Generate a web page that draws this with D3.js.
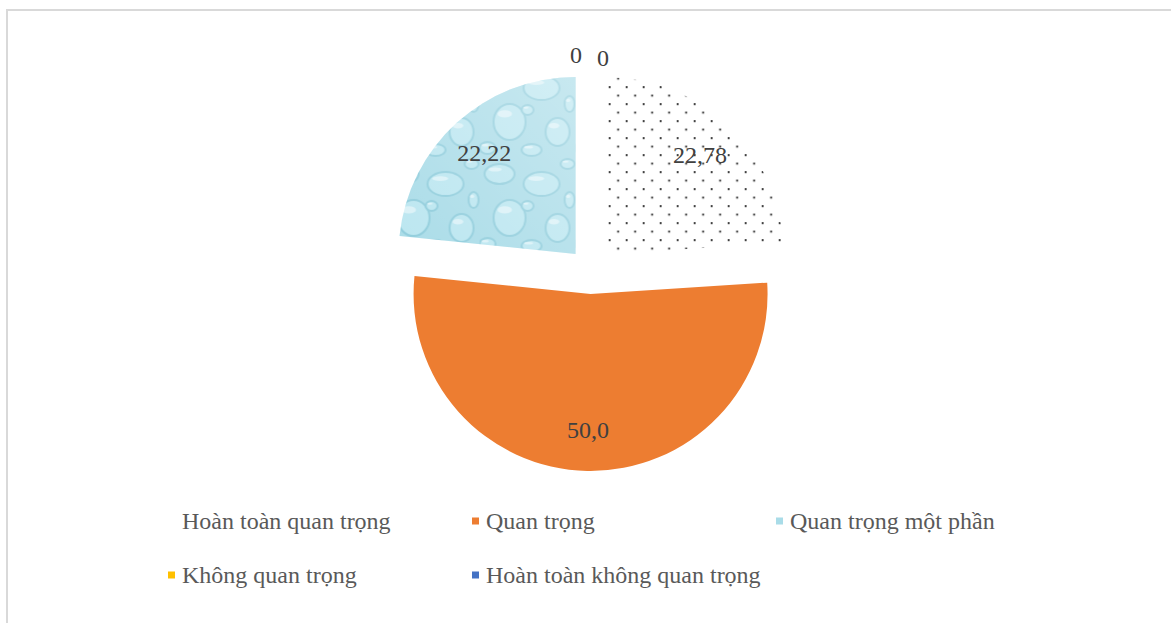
<!DOCTYPE html>
<html>
<head>
<meta charset="utf-8">
<script src="https://cdn.jsdelivr.net/npm/d3@7"></script>
<style>
  html, body { margin: 0; padding: 0; background: #ffffff; }
  svg { display: block; }
</style>
</head>
<body>
<svg id="chart" width="1171" height="623"></svg>
<script>
// ---- Data ----
const categories = ["Hoàn toàn quan trọng", "Quan trọng", "Quan trọng một phần", "Không quan trọng", "Hoàn toàn không quan trọng"];
const values = [22.78, 50.0, 22.22, 0, 0];
const valueLabels = ["22,78", "50,0", "22,22", "0", "0"];

// ---- Layout / style ----
const W = 1171, H = 623;
const cx = 591, cy = 271, R = 177, explode = 23;
const font = "'Liberation Serif', 'Times New Roman', serif";
const svg = d3.select("#chart");
const defs = svg.append("defs");

// dotted (5%) pattern: staggered dots
const dots = defs.append("pattern").attr("id", "dots").attr("patternUnits", "userSpaceOnUse")
  .attr("width", 17).attr("height", 17);
dots.append("rect").attr("width", 17).attr("height", 17).attr("fill", "#ffffff");
dots.append("rect").attr("x", 2).attr("y", 2).attr("width", 1.8).attr("height", 1.8).attr("fill", "#111");
dots.append("rect").attr("x", 10.5).attr("y", 10.5).attr("width", 1.8).attr("height", 1.8).attr("fill", "#111");

// water-drop texture pattern
const drops = defs.append("pattern").attr("id", "drops").attr("patternUnits", "userSpaceOnUse")
  .attr("width", 96).attr("height", 96);
drops.append("rect").attr("width", 96).attr("height", 96).attr("fill", "#aadce8");
const dropShapes = [[20,16,15,10],[62,26,18,12],[30,60,16,18],[78,70,12,14],[8,86,8,6],[52,88,10,6],[88,6,7,5],[90,42,5,8],[48,48,6,5]];
dropShapes.forEach(([x, y, rx, ry]) => {
  drops.append("ellipse").attr("cx", x).attr("cy", y).attr("rx", rx).attr("ry", ry)
    .attr("fill", "rgba(200,238,246,0.55)").attr("stroke", "#90cddc").attr("stroke-width", 2);
  drops.append("ellipse").attr("cx", x - rx * 0.3).attr("cy", y - ry * 0.45).attr("rx", rx * 0.45).attr("ry", ry * 0.2)
    .attr("fill", "rgba(255,255,255,0.45)");
});
const lg = defs.append("linearGradient").attr("id", "sheen").attr("x1", "0").attr("y1", "1").attr("x2", "1").attr("y2", "0");
lg.append("stop").attr("offset", "0").attr("stop-color", "#ffffff").attr("stop-opacity", 0);
lg.append("stop").attr("offset", "1").attr("stop-color", "#ffffff").attr("stop-opacity", 0.35);

const fills = ["url(#dots)", "#ED7D31", "url(#drops)", "#FFC000", "#4472C4"];
const legendFills = ["#ffffff", "#ED7D31", "#a9dce8", "#FFC000", "#4472C4"];

// frame
svg.append("rect").attr("x", 7).attr("y", 10).attr("width", W + 20).attr("height", H + 20)
  .attr("fill", "none").attr("stroke", "#d9d9d9").attr("stroke-width", 2);

// ---- Pie ----
const pie = d3.pie().sort(null).value(d => d);
const arcs = pie(values);
const arc = d3.arc().innerRadius(0).outerRadius(R);
const g = svg.append("g").attr("transform", `translate(${cx},${cy})`);

function offset(d, dist) {
  const a = (d.startAngle + d.endAngle) / 2;
  return [Math.sin(a) * dist, -Math.cos(a) * dist];
}

const slices = g.selectAll("g.slice").data(arcs).enter().append("g").attr("class", "slice")
  .attr("transform", d => { const [x, y] = offset(d, explode); return `translate(${x},${y})`; });
slices.filter(d => d.value > 0).append("path").attr("d", arc).attr("fill", (d, i) => fills[d.index]);
slices.filter(d => d.index === 2).append("path").attr("d", arc).attr("fill", "url(#sheen)");

// value labels
slices.filter(d => d.value > 0).append("text")
  .attr("x", d => offset(d, R * 0.77)[0])
  .attr("y", d => offset(d, R * 0.77)[1])
  .attr("text-anchor", "middle").attr("dominant-baseline", "central")
  .attr("font-family", font).attr("font-size", 24).attr("fill", "#404040")
  .text(d => valueLabels[d.index]);

// zero-value labels outside at the top, nudged apart
const zeros = arcs.filter(d => d.value === 0);
g.selectAll("text.zero").data(zeros).enter().append("text").attr("class", "zero")
  .attr("x", (d, i) => offset(d, R + 39)[0] + (i === 0 ? -15 : 12))
  .attr("y", (d, i) => offset(d, R + 39)[1] + (i === 0 ? 0 : 3))
  .attr("text-anchor", "middle").attr("dominant-baseline", "central")
  .attr("font-family", font).attr("font-size", 24).attr("fill", "#404040")
  .text(d => valueLabels[d.index]);

// ---- Legend ----
const legX0 = 168, legDX = 304, legY0 = 521, legDY = 54;
const leg = svg.append("g").selectAll("g").data(categories).enter().append("g")
  .attr("transform", (d, i) => `translate(${legX0 + (i % 3) * legDX},${legY0 + Math.floor(i / 3) * legDY})`);
leg.append("rect").attr("x", 0).attr("y", -3.5).attr("width", 7).attr("height", 7)
  .attr("fill", (d, i) => legendFills[i]);
leg.append("text").attr("x", 14).attr("y", 0).attr("dominant-baseline", "central")
  .attr("font-family", font).attr("font-size", 24).attr("fill", "#595959")
  .text(d => d);
</script>
</body>
</html>
